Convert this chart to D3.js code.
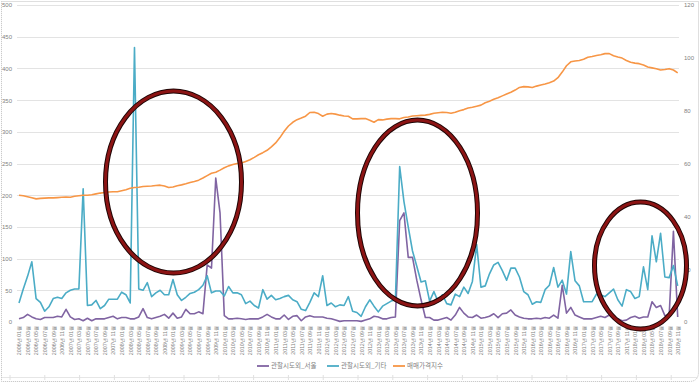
<!doctype html>
<html>
<head>
<meta charset="utf-8">
<title>관할시도외 거래와 매매가격지수</title>
<style>
  body { margin: 0; background: #fff; }
  svg { display: block; font-family: "Noto Sans CJK KR", "Noto Sans", sans-serif; }
</style>
</head>
<body>
<div id="chart"></div>
<script src="https://cdn.jsdelivr.net/npm/d3@7"></script>
<script>
// 월 (2006년 01월 ~ 2018년 11월)
var months = [];
for (var y = 2006; y <= 2018; y++) {
  for (var m = 1; m <= 12; m++) {
    if (y === 2018 && m > 11) break;
    months.push(y + "년 " + (m < 10 ? "0" + m : m) + "월");
  }
}

var seriesNames = ["관할시도외_서울", "관할시도외_기타", "매매가격지수"];
var seriesColors = ["#8064a2", "#4bacc6", "#f79646"];

// 관할시도외_서울 (왼쪽 축)
var seoul = [
  5, 7, 12, 8, 5, 4, 7, 7, 7, 9, 8, 20, 8, 4, 5, 2, 6, 2, 5, 5,
  5, 7, 9, 5, 7, 7, 5, 5, 8, 21, 7, 5, 7, 9, 12, 6, 14, 6, 8, 20,
  13, 13, 16, 13, 90, 85, 227, 172, 10, 5, 5, 6, 5, 4, 5, 5, 5, 8, 12, 8,
  5, 5, 11, 4, 9, 10, 2, 8, 10, 8, 8, 8, 6, 5, 3, 1, 2, 2, 2, 2,
  1, 3, 5, 9, 8, 5, 5, 7, 8, 160, 172, 102, 102, 66, 35, 7, 7, 3, 3, 5,
  7, 3, 11, 23, 14, 8, 7, 11, 6, 7, 9, 13, 7, 13, 14, 19, 11, 8, 6, 5,
  5, 6, 5, 7, 6, 11, 6, 58, 14, 23, 11, 8, 5, 5, 5, 7, 9, 7, 11, 5,
  5, 2, 3, 7, 9, 6, 8, 8, 32, 23, 26, 10, 10, 143, 8
];

// 관할시도외_기타 (왼쪽 축)
var etc = [
  30, 52, 72, 95, 37, 31, 17, 24, 37, 39, 37, 46, 50, 52, 52, 210, 26, 27, 34, 21,
  26, 36, 36, 36, 47, 43, 30, 433, 52, 50, 62, 40, 46, 50, 43, 43, 67, 43, 34, 39,
  45, 47, 51, 58, 73, 46, 49, 49, 41, 56, 46, 46, 43, 29, 33, 26, 22, 51, 36, 42,
  35, 37, 40, 42, 35, 32, 20, 18, 31, 46, 40, 73, 26, 30, 24, 27, 26, 40, 17, 15,
  9, 24, 35, 25, 16, 25, 29, 33, 35, 245, 190, 150, 112, 88, 63, 65, 33, 48, 32, 43,
  29, 27, 44, 40, 55, 45, 64, 122, 55, 57, 76, 90, 94, 81, 66, 85, 85, 71, 48, 43,
  28, 32, 31, 51, 58, 86, 55, 66, 44, 111, 65, 57, 32, 32, 32, 44, 43, 40, 46, 52,
  35, 25, 51, 48, 37, 40, 87, 51, 136, 95, 140, 71, 70, 89, 57
];

// 매매가격지수 (오른쪽 축)
var priceIndex = [
  48.0, 47.8, 47.4, 47.0, 46.6, 46.8, 46.9, 47.0, 47.0, 47.1, 47.2, 47.3, 47.2, 47.6, 47.8, 48.0, 48.0, 48.2, 48.5, 48.8,
  49.0, 49.2, 49.3, 49.3, 49.7, 50.1, 50.6, 50.9, 51.0, 51.3, 51.4, 51.5, 51.7, 51.8, 51.5, 50.9, 51.1, 51.6, 51.9, 52.3,
  52.8, 53.2, 53.7, 54.5, 55.4, 56.3, 56.7, 57.5, 58.4, 59.1, 59.6, 60.0, 60.2, 60.8, 61.4, 62.3, 63.3, 64.1, 65.0, 66.3,
  67.8, 69.8, 72.2, 74.2, 75.6, 76.6, 77.2, 77.9, 79.3, 79.4, 78.9, 77.9, 78.7, 78.9, 78.7, 78.3, 78.0, 77.9, 76.9, 76.9,
  77.0, 77.0, 76.4, 75.6, 76.6, 76.5, 76.8, 77.0, 77.0, 76.9, 77.4, 77.6, 78.0, 78.1, 78.2, 78.3, 78.6, 79.0, 79.2, 79.4,
  79.3, 79.0, 79.4, 80.0, 80.4, 81.0, 81.3, 81.7, 82.1, 83.0, 83.6, 84.3, 84.9, 85.6, 86.3, 87.0, 87.8, 88.8, 89.1, 89.0,
  88.8, 89.3, 89.7, 90.1, 90.6, 91.2, 92.5, 94.6, 97.0, 98.5, 98.8, 99.0, 99.5, 100.2, 100.5, 100.9, 101.2, 101.6, 101.6, 100.8,
  100.3, 99.9, 99.0, 98.3, 98.0, 97.8, 97.3, 96.5, 96.2, 95.9, 95.4, 95.6, 95.9, 95.4, 94.3
];

var leftTicks = [0, 50, 100, 150, 200, 250, 300, 350, 400, 450, 500];
var rightTicks = [0, 20, 40, 60, 80, 100, 120];

var width = 700, height = 383;
var svg = d3.select("#chart").append("svg")
  .attr("width", width).attr("height", height);

// 외곽 점선 테두리
svg.append("path")
  .attr("d", "M1.5,1.5 H698.5 V372 Q698.5,381.5 689,381.5 H1.5 Z")
  .attr("fill", "none").attr("stroke", "#bfbfbf")
  .attr("stroke-dasharray", "1,1");

// 아래쪽 옅은 선
svg.append("line").attr("x1", 2).attr("x2", 698).attr("y1", 377.5).attr("y2", 377.5)
  .attr("stroke", "#e6e6e6");
d3.range(10, 698, 34.8).forEach(function(px) {
  svg.append("line").attr("x1", px).attr("x2", px).attr("y1", 375).attr("y2", 380)
    .attr("stroke", "#e0e0e0");
});

var x = d3.scaleLinear().domain([0, months.length - 1]).range([19, 677.7]);
var yL = d3.scaleLinear().domain([0, 500]).range([322, 5]);
var yR = d3.scaleLinear().domain([0, 120]).range([322, 5]);

// 격자선
svg.append("g").selectAll("line").data(leftTicks.slice(1)).enter().append("line")
  .attr("x1", 17).attr("x2", 679)
  .attr("y1", function(d) { return Math.round(yL(d)) + 0.5; })
  .attr("y2", function(d) { return Math.round(yL(d)) + 0.5; })
  .attr("stroke", "#e3e3e3").attr("stroke-width", 1);

// 왼쪽 축
var gl = svg.append("g").attr("transform", "translate(12,0)")
  .call(d3.axisLeft(yL).tickValues(leftTicks).tickSize(0).tickPadding(0));
gl.select(".domain").remove();
gl.selectAll("text").attr("fill", "#7f7f7f").style("font-size", "6px")
  .style("font-family", "Liberation Sans, Arial, sans-serif");

// 오른쪽 축
var gr = svg.append("g").attr("transform", "translate(684,0)")
  .call(d3.axisRight(yR).tickValues(rightTicks).tickSize(0).tickPadding(0));
gr.select(".domain").remove();
gr.selectAll("text").attr("fill", "#7f7f7f").style("font-size", "6px")
  .style("font-family", "Liberation Sans, Arial, sans-serif");

// X축 레이블 (격월)
var gx = svg.append("g").attr("transform", "translate(0,326)")
  .call(d3.axisBottom(x)
    .tickValues(d3.range(0, months.length, 2))
    .tickFormat(function(i) { return months[i]; })
    .tickSize(0).tickPadding(0));
gx.select(".domain").remove();
gx.selectAll("text")
  .attr("fill", "#7f7f7f")
  .style("font-size", "5.3px")
  .attr("text-anchor", "end")
  .attr("dy", "0.35em")
  .attr("transform", "rotate(-90)")
  .attr("x", 0).attr("y", 0);

// 선
var lineL = d3.line().x(function(d, i) { return x(i); }).y(function(d) { return yL(d); });
var lineR = d3.line().x(function(d, i) { return x(i); }).y(function(d) { return yR(d); });

svg.append("path").attr("d", lineL(seoul))
  .attr("fill", "none").attr("stroke", seriesColors[0]).attr("stroke-width", 1.6)
  .attr("stroke-linejoin", "round");
svg.append("path").attr("d", lineL(etc))
  .attr("fill", "none").attr("stroke", seriesColors[1]).attr("stroke-width", 1.6)
  .attr("stroke-linejoin", "round");
svg.append("path").attr("d", lineR(priceIndex))
  .attr("fill", "none").attr("stroke", seriesColors[2]).attr("stroke-width", 1.6)
  .attr("stroke-linejoin", "round");

// 범례
var legendX = [257, 327, 393];
var legend = svg.append("g");
seriesNames.forEach(function(name, i) {
  legend.append("line")
    .attr("x1", legendX[i]).attr("x2", legendX[i] + 12)
    .attr("y1", 366).attr("y2", 366)
    .attr("stroke", seriesColors[i]).attr("stroke-width", 1.8);
  legend.append("text")
    .attr("x", legendX[i] + 14).attr("y", 366).attr("dy", "0.35em")
    .attr("fill", "#7f7f7f").style("font-size", "6.5px")
    .text(name);
});

// 빨간 타원 강조
var ellipses = [
  { cx: 173.5, cy: 182, rx: 68, ry: 91 },
  { cx: 417.5, cy: 213, rx: 60, ry: 93 },
  { cx: 640.5, cy: 265.5, rx: 46, ry: 63.5 }
];
var ge = svg.append("g");
ge.selectAll(".ring-out").data(ellipses).enter().append("ellipse")
  .attr("class", "ring-out")
  .attr("cx", function(d) { return d.cx; }).attr("cy", function(d) { return d.cy; })
  .attr("rx", function(d) { return d.rx; }).attr("ry", function(d) { return d.ry; })
  .attr("fill", "none").attr("stroke", "#1e0505").attr("stroke-width", 5);
ge.selectAll(".ring-in").data(ellipses).enter().append("ellipse")
  .attr("class", "ring-in")
  .attr("cx", function(d) { return d.cx; }).attr("cy", function(d) { return d.cy; })
  .attr("rx", function(d) { return d.rx; }).attr("ry", function(d) { return d.ry; })
  .attr("fill", "none").attr("stroke", "#8c1414").attr("stroke-width", 3);
</script>
</body>
</html>
